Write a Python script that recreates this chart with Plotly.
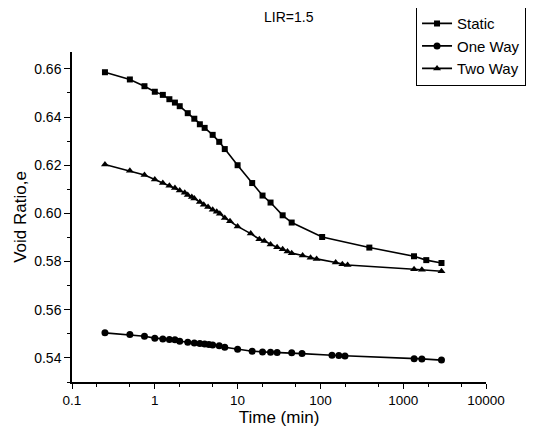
import plotly.graph_objects as go

# time (min) and void ratio
t_static = [0.25, 0.5, 0.75, 1, 1.25, 1.5, 1.75, 2, 2.5, 3, 3.5, 4, 5, 6, 7,
            10, 15, 20, 25, 35, 45, 105, 390, 1350, 1900, 2900]
e_static = [0.6586, 0.6556, 0.6528, 0.6505, 0.6492, 0.6474, 0.6460, 0.6445, 0.6416,
            0.6393, 0.6370, 0.6355, 0.6326, 0.6297, 0.6267, 0.6200, 0.6126, 0.6074,
            0.6045, 0.5992, 0.5962, 0.5902, 0.5858, 0.5822, 0.5806, 0.5794]

t_one = [0.25, 0.5, 0.75, 1, 1.25, 1.5, 1.75, 2, 2.5, 3, 3.5, 4, 4.5, 5, 6, 7,
         10, 15, 20, 25, 30, 45, 60, 138, 167, 198, 1356, 1680, 2900]
e_one = [0.5504, 0.5497, 0.5490, 0.5482, 0.5479, 0.5476, 0.5475, 0.5469, 0.5465,
         0.5462, 0.5460, 0.5458, 0.5456, 0.5454, 0.5451, 0.5444, 0.5436, 0.5428,
         0.5425, 0.5424, 0.5422, 0.5421, 0.5418, 0.5411, 0.5410, 0.5408, 0.5397,
         0.5396, 0.5391]

t_two = [0.25, 0.5, 0.75, 1, 1.25, 1.5, 1.75, 2, 2.3, 2.5, 2.8, 3, 3.5, 3.9, 4.4,
         5, 5.6, 6.1, 7, 8.1, 10, 14.4, 18.3, 21, 25, 30, 35, 40, 45, 61, 76, 90,
         153, 184, 213, 1353, 1680, 2900]
e_two = [0.6203, 0.6177, 0.6159, 0.6141, 0.6126, 0.6115, 0.6105, 0.6095, 0.6086,
         0.6076, 0.6068, 0.6062, 0.6047, 0.6036, 0.6026, 0.6015, 0.6007, 0.5999,
         0.5981, 0.5967, 0.5946, 0.5916, 0.5893, 0.5885, 0.5871, 0.5859, 0.5851,
         0.5842, 0.5835, 0.5825, 0.5816, 0.5811, 0.5796, 0.5789, 0.5786, 0.5768,
         0.5766, 0.5760]

x_ticks = [0.1, 1, 10, 100, 1000, 10000]
x_labels = ['0.1', '1', '10', '100', '1000', '10000']

FONT = 'Liberation Sans, Arial, sans-serif'

fig = go.Figure()


def add_series(t, e, name, symbol, size):
    fig.add_trace(go.Scatter(
        x=t, y=e, name=name, mode='lines+markers',
        line=dict(color='black', width=1.6),
        marker=dict(symbol=symbol, size=size, color='black'),
    ))


add_series(t_static, e_static, 'Static', 'square', 6)
add_series(t_one, e_one, 'One Way', 'circle', 7)
add_series(t_two, e_two, 'Two Way', 'triangle-up', 7)

# page body adds 8px on the left/top, so margins are shifted by that much
fig.update_layout(
    width=535, height=439,
    margin=dict(l=64, r=57, t=44, b=65, autoexpand=False),
    paper_bgcolor='white', plot_bgcolor='white',
    font=dict(family=FONT, size=14, color='black'),
    legend=dict(x=0.831, y=1.139, xanchor='left', yanchor='top',
                bordercolor='black', borderwidth=1, bgcolor='white',
                font=dict(size=15), tracegroupgap=0),
    showlegend=True,
)

fig.add_annotation(text='LIR=1.5', xref='paper', yref='paper',
                   x=0.525, y=1.106, xanchor='center', yanchor='middle',
                   showarrow=False, font=dict(size=14))

fig.update_xaxes(
    type='log', range=[-1, 4],
    tickvals=x_ticks, ticktext=x_labels,
    ticks='outside', ticklen=5, tickwidth=1.2, tickcolor='black',
    tickfont=dict(size=13.5),
    showline=True, linecolor='black', linewidth=1.5,
    showgrid=False, zeroline=False,
    minor=dict(ticks='outside', ticklen=3, tickcolor='black', showgrid=False),
    title=dict(text='Time (min)', font=dict(size=17), standoff=0),
)
fig.update_yaxes(
    range=[0.53, 0.667], dtick=0.02, tick0=0.54, tickformat='.2f',
    ticks='outside', ticklen=6, tickwidth=1.2, tickcolor='black',
    showline=True, linecolor='black', linewidth=1.5,
    showgrid=False, zeroline=False,
    minor=dict(dtick=0.01, ticks='outside', ticklen=3, tickcolor='black', showgrid=False),
    title=dict(text='Void Ratio,e', font=dict(size=17), standoff=3),
)

fig.write_html("out.html")
